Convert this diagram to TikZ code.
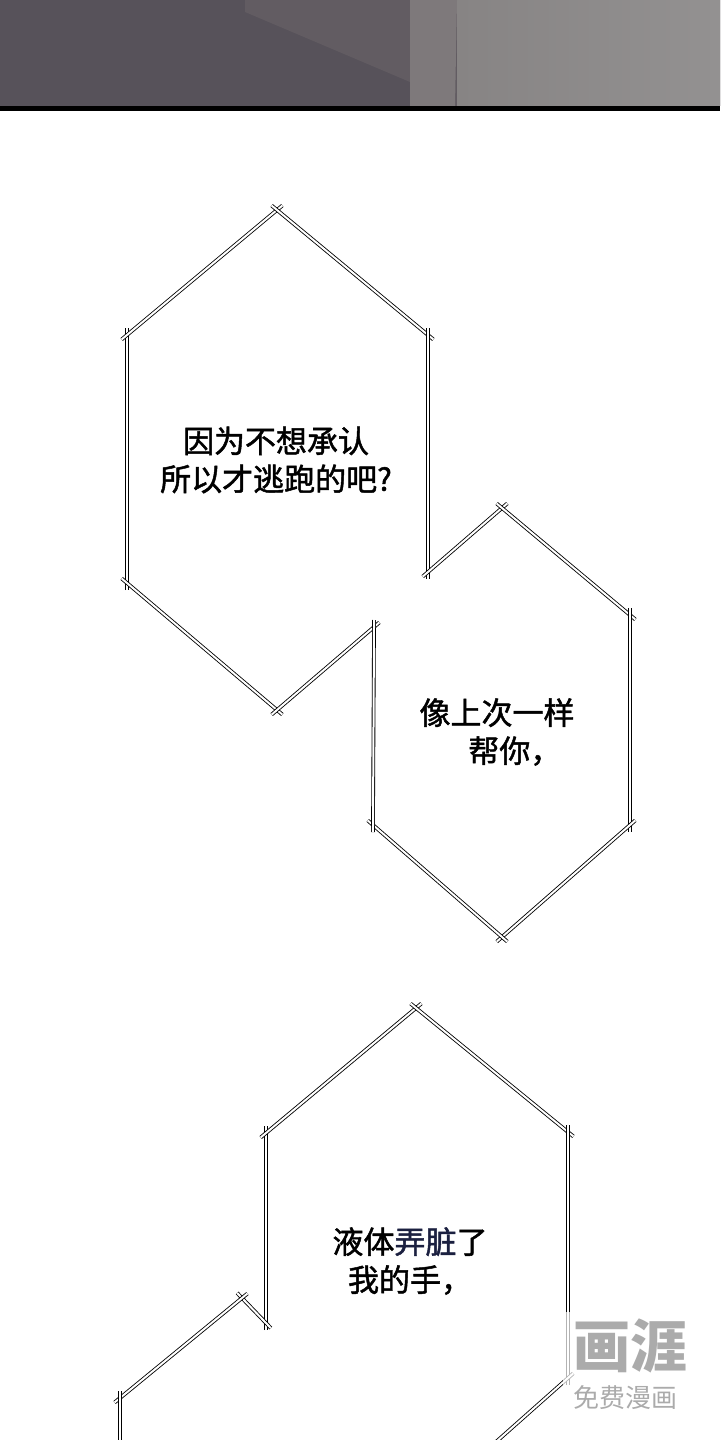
\documentclass[tikz,border=0pt]{standalone}
\usepackage{fontspec}
\newfontfamily\cjk{Noto Sans CJK SC}[FakeBold=1.5]
\newfontfamily\cjkplain{Noto Sans CJK SC}
\definecolor{wallDark}{HTML}{57525A}
\definecolor{wallMid}{HTML}{625C62}
\definecolor{wallEdge}{HTML}{7E797B}
\definecolor{wallLight}{HTML}{878484}
\definecolor{wallPale}{HTML}{939191}
\definecolor{inkNavy}{HTML}{1B2040}
\tikzset{
  rim/.style={draw=black,line width=0.85bp,double=white,double distance=2bp,
    shorten <=-7bp,shorten >=-7bp},
  say/.style={font=\cjk\fontsize{31bp}{38bp}\selectfont,align=center,inner sep=0pt},
  wmark/.style={text=black!33,inner sep=0pt},
}
\begin{document}
\begin{tikzpicture}[x=1bp,y=-1bp]
  \useasboundingbox (0,0) rectangle (720,1440);

  % end of the upper panel
  \fill[wallDark] (0,0) rectangle (720,106);
  \fill[wallMid] (245,0) -- (720,0) -- (720,106) -- (410,106) -- (410,82) -- (245,12) -- cycle;
  \shade[left color=wallLight,right color=wallPale] (457,0) rectangle (720,106);
  \fill[wallEdge] (410,0) -- (457,0) -- (455,106) -- (410,106) -- cycle;
  \fill[black] (0,106) rectangle (720,111);

  % first balloon
  \coordinate (a-t) at (277,210);
  \coordinate (a-ul) at (127,335);
  \coordinate (a-ur) at (428,335);
  \coordinate (a-ll) at (127,583);
  \coordinate (a-b) at (277,710);
  \coordinate (a-j1) at (428,572);
  \coordinate (a-j2) at (374,627);

  % second balloon
  \coordinate (b-t) at (502,508);
  \coordinate (b-ur) at (630,615);
  \coordinate (b-lr) at (630,825);
  \coordinate (b-b) at (502,937);
  \coordinate (b-ll) at (373,825);

  % third balloon
  \coordinate (c-t) at (416,1008);
  \coordinate (c-ul) at (266,1133);
  \coordinate (c-ur) at (568,1132);
  \coordinate (c-lj) at (266,1323);
  \coordinate (c-n) at (242,1298);
  \coordinate (c-ll) at (120,1398);
  \coordinate (c-lo) at (120,1470);
  \coordinate (c-rj) at (568,1378);
  \coordinate (c-ro) at (470,1465);

  \path[every edge/.style=rim]
    (a-ll) edge (a-ul)
    (a-ul) edge (a-t)
    (a-t) edge (a-ur)
    (a-ur) edge (a-j1)
    (a-ll) edge (a-b)
    (a-b) edge (a-j2)

    (a-j1) edge (b-t)
    (b-t) edge (b-ur)
    (b-ur) edge (b-lr)
    (b-lr) edge (b-b)
    (b-b) edge (b-ll)
    (b-ll) edge (a-j2)

    (c-lj) edge (c-ul)
    (c-ul) edge (c-t)
    (c-t) edge (c-ur)
    (c-ur) edge (c-rj)
    (c-rj) edge (c-ro)
    (c-lj) edge (c-n)
    (c-n) edge (c-ll)
    (c-ll) edge (c-lo);

  \node[say] (line-a) at (276,460) {因为不想承认\\所以才逃跑的吧?};
  \node[say] (line-b) at (497,732) {像上次一样\\\hspace*{1.15em}帮你，};
  \node[say] (line-c) at (410,1261) {液体\textcolor{inkNavy}{弄脏}了\\我的手，};

  % watermark
  \fill[white,opacity=0.7] (563,1312) rectangle (690,1415);
  \node[wmark,font=\cjkplain\bfseries\fontsize{57bp}{57bp}\selectfont] (wm-top) at (630,1346) {画涯};
  \node[wmark,font=\cjkplain\fontsize{26bp}{26bp}\selectfont] (wm-bot) at (625,1398) {免费漫画};
\end{tikzpicture}
\end{document}
